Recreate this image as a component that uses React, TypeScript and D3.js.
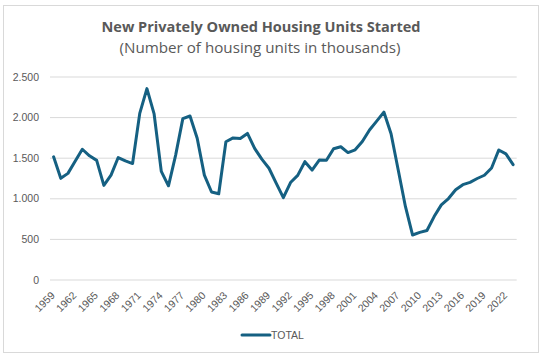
import React from "react";
import * as d3 from "d3";

const years: number[] = d3.range(1959, 2024);
const totals: number[] = [
  1517, 1252, 1313, 1463, 1610, 1529, 1473, 1165, 1292, 1508,
  1467, 1434, 2052, 2357, 2045, 1338, 1160, 1538, 1987, 2020,
  1745, 1292, 1084, 1062, 1703, 1750, 1742, 1805, 1621, 1488,
  1376, 1193, 1014, 1200, 1288, 1457, 1354, 1477, 1474, 1617,
  1641, 1569, 1603, 1705, 1848, 1956, 2068, 1801, 1355, 906,
  554, 587, 609, 781, 925, 1003, 1112, 1174, 1203, 1250,
  1290, 1380, 1601, 1553, 1420,
];
const yTicks: number[] = [0, 500, 1000, 1500, 2000, 2500];
const xTickLabels: number[] = years.filter((y) => (y - 1959) % 3 === 0);
const seriesName = "TOTAL";
const title = "New Privately Owned Housing Units Started";
const subtitle = "(Number of housing units in thousands)";

const W = 542;
const H = 357;
const plot = { left: 50, right: 516.7, top: 77, bottom: 280 };
const color = "#156082";
const textColor = "#595959";
const axisFont = "'Liberation Sans', Arial, sans-serif";

const fmt = (v: number) => d3.format(",")(v).replace(/,/g, ".");

export default function App() {
  const x = d3
    .scaleBand<number>()
    .domain(years)
    .range([plot.left, plot.right]);
  const cx = (yr: number) => (x(yr) as number) + x.bandwidth() / 2;
  const y = d3.scaleLinear().domain([0, 2500]).range([plot.bottom, plot.top]);
  const line = d3
    .line<number>()
    .x((_, i) => cx(years[i]))
    .y((d) => y(d));

  return (
    <svg
      width={W}
      height={H}
      style={{ position: "absolute", left: 0, top: 0, background: "#fff" }}
    >
      <rect x={3.5} y={5.5} width={535} height={347} fill="#fff" stroke="#d9d9d9" />
      <text
        x={261}
        y={32}
        textAnchor="middle"
        fontFamily="'Open Sans', 'Noto Sans', sans-serif"
        fontWeight={700}
        fontSize={14.5}
        fill={textColor}
        textLength={319}
        lengthAdjust="spacingAndGlyphs"
      >
        {title}
      </text>
      <text
        x={260}
        y={53}
        textAnchor="middle"
        fontFamily="'Open Sans', 'Noto Sans', sans-serif"
        fontSize={14}
        fill={textColor}
        textLength={281}
        lengthAdjust="spacingAndGlyphs"
      >
        {subtitle}
      </text>
      {yTicks.map((t) => (
        <g key={t}>
          <line
            x1={plot.left}
            x2={plot.right}
            y1={y(t)}
            y2={y(t)}
            stroke="#d9d9d9"
            strokeWidth={1}
          />
          <text
            x={39}
            y={y(t) + 3.5}
            textAnchor="end"
            fontFamily={axisFont}
            fontSize={10.5}
            fill={textColor}
          >
            {fmt(t)}
          </text>
        </g>
      ))}
      {xTickLabels.map((yr) => (
        <text
          key={yr}
          transform={`translate(${cx(yr) + 2},${296}) rotate(-45)`}
          textAnchor="end"
          fontFamily={axisFont}
          fontSize={10.5}
          fill={textColor}
        >
          {yr}
        </text>
      ))}
      <path
        d={line(totals) || ""}
        fill="none"
        stroke={color}
        strokeWidth={3}
        strokeLinejoin="round"
        strokeLinecap="round"
      />
      <line x1={242} x2={270} y1={335} y2={335} stroke={color} strokeWidth={3} strokeLinecap="round" />
      <text x={271} y={339} fontFamily={axisFont} fontSize={10.5} fill={textColor}>
        {seriesName}
      </text>
    </svg>
  );
}
